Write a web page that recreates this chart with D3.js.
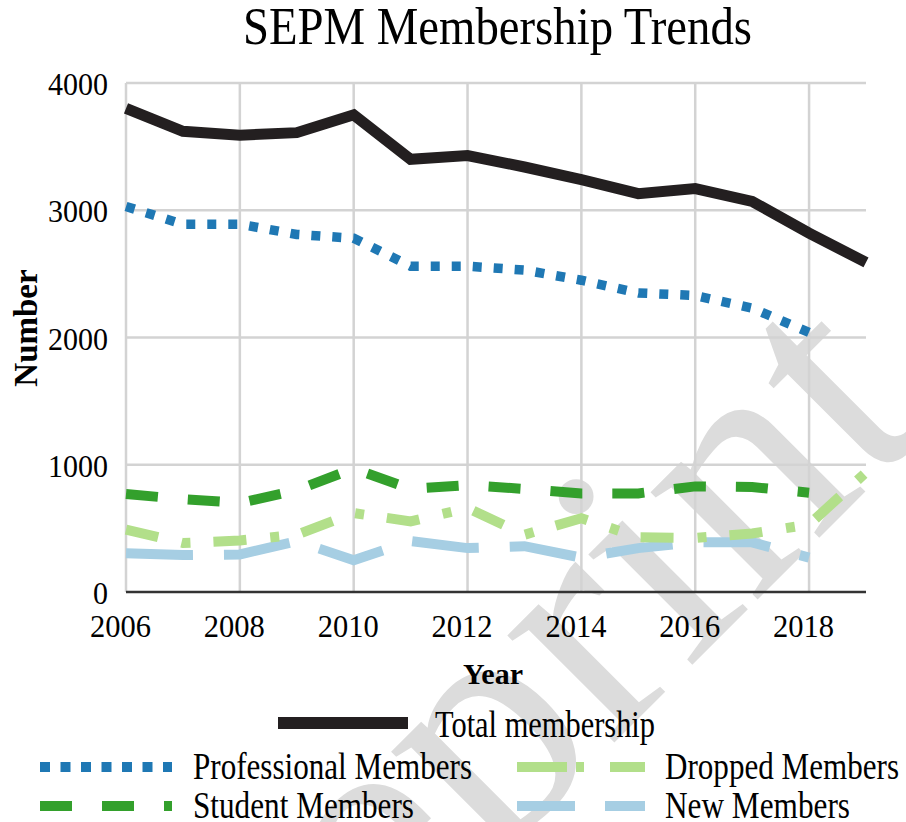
<!DOCTYPE html>
<html>
<head>
<meta charset="utf-8">
<script src="https://cdn.jsdelivr.net/npm/d3@7"></script>
<style>
  body { margin: 0; background: #fff; }
  svg { display: block; }
  svg text { font-family: 'Liberation Serif', 'Times New Roman', serif; }
</style>
</head>
<body>
<svg id="chart" width="906" height="822"></svg>
<script>
// data
const years = [2006, 2007, 2008, 2009, 2010, 2011, 2012, 2013, 2014, 2015, 2016, 2017, 2018, 2019];
const totalMembership = [3800, 3620, 3590, 3610, 3750, 3400, 3430, 3340, 3240, 3130, 3170, 3070, 2820, 2590];
const professionalMembers = [3030, 2890, 2890, 2810, 2780, 2560, 2560, 2530, 2450, 2350, 2330, 2230, 2040, null];
const studentMembers = [770, 730, 700, 800, 970, 810, 840, 810, 775, 775, 830, 825, 780, null];
const droppedMembers = [490, 385, 405, 450, 620, 555, 660, 450, 580, 430, 425, 460, 530, 940];
const newMembers = [305, 290, 295, 400, 250, 400, 345, 360, 270, 345, 390, 390, 270, null];
const xTicks = [2006, 2008, 2010, 2012, 2014, 2016, 2018];
const yTicks = [0, 1000, 2000, 3000, 4000];

// series styles (dash patterns follow the picture)
const series = [
  { name: 'Total membership', values: totalMembership, color: '#231f20', width: 11, dash: null },
  { name: 'Professional Members', values: professionalMembers, color: '#1f78b4', width: 9.5, dash: '9 12' },
  { name: 'Student Members', values: studentMembers, color: '#33a02c', width: 10, dash: '32 30' },
  { name: 'Dropped Members', values: droppedMembers, color: '#b2df8a', width: 10, dash: '33 24 9 23' },
  { name: 'New Members', values: newMembers, color: '#a6cee3', width: 10, dash: '67 31' }
];

const serif = "'Liberation Serif', 'Times New Roman', serif";

var margin = { left: 126, right: 40, top: 83, bottom: 230 };
var width = 906, height = 822;

const svg = d3.select('#chart');

svg.append('rect').attr('width', width).attr('height', height).attr('fill', '#fff');

// watermark behind the chart
svg.append('text')
  .attr('transform', 'translate(182,1175) rotate(-45)')
  .style('font-family', serif)
  .attr('font-size', 330)
  .attr('fill', '#dcdcdc')
  .text('Preprint');

const x = d3.scaleLinear().domain([2006, 2019]).range([margin.left, width - margin.right]);
const y = d3.scaleLinear().domain([0, 4000]).range([height - margin.bottom, margin.top]);

// grid
svg.append('g')
  .selectAll('line')
  .data(yTicks.filter(d => d > 0))
  .enter()
  .append('line')
  .attr('x1', x(2006)).attr('x2', x(2019))
  .attr('y1', d => y(d)).attr('y2', d => y(d))
  .attr('stroke', '#d3d3d3').attr('stroke-width', 2.5);

svg.append('g')
  .selectAll('line')
  .data(xTicks)
  .enter()
  .append('line')
  .attr('x1', d => x(d)).attr('x2', d => x(d))
  .attr('y1', y(0)).attr('y2', y(4000))
  .attr('stroke', '#d3d3d3').attr('stroke-width', 2.5);

// axes (tick labels only)
const yAxis = svg.append('g')
  .attr('transform', 'translate(' + margin.left + ',0)')
  .call(d3.axisLeft(y).tickValues(yTicks).tickSize(0).tickPadding(18).tickFormat(d3.format('d')));
yAxis.attr('font-family', null);
yAxis.select('.domain').remove();
yAxis.selectAll('text')
  .style('font-family', serif)
  .attr('font-size', 32)
  .attr('fill', '#000')
  .attr('dy', '0.36em')
  .attr('textLength', d => String(d).length * 15)
  .attr('lengthAdjust', 'spacingAndGlyphs');

const xAxis = svg.append('g')
  .attr('transform', 'translate(-6,' + y(0) + ')')
  .call(d3.axisBottom(x).tickValues(xTicks).tickSize(0).tickPadding(22).tickFormat(d3.format('d')));
xAxis.attr('font-family', null);
xAxis.select('.domain').remove();
xAxis.selectAll('text')
  .style('font-family', serif)
  .attr('font-size', 32)
  .attr('fill', '#000')
  .attr('dy', '0.71em')
  .attr('textLength', 61)
  .attr('lengthAdjust', 'spacingAndGlyphs');

// x axis base line
svg.append('line')
  .attr('x1', x(2006)).attr('x2', x(2019))
  .attr('y1', y(0)).attr('y2', y(0))
  .attr('stroke', '#333').attr('stroke-width', 2.5);

// lines
const line = d3.line()
  .defined(d => d.v != null)
  .x(d => x(d.year))
  .y(d => y(d.v));

series.slice().reverse().forEach(function (s) {
  const pts = years.map((yr, i) => ({ year: yr, v: s.values[i] }));
  svg.append('path')
    .datum(pts)
    .attr('d', line)
    .attr('fill', 'none')
    .attr('stroke', s.color)
    .attr('stroke-width', s.width)
    .attr('stroke-dasharray', s.dash);
});

// titles
svg.append('text')
  .attr('x', 243).attr('y', 44)
  .style('font-family', serif)
  .attr('font-size', 53)
  .attr('textLength', 509)
  .attr('lengthAdjust', 'spacingAndGlyphs')
  .text('SEPM Membership Trends');

svg.append('text')
  .attr('x', 493).attr('y', 684)
  .attr('text-anchor', 'middle')
  .style('font-family', serif)
  .attr('font-size', 30)
  .attr('font-weight', 'bold')
  .text('Year');

svg.append('text')
  .attr('transform', 'translate(37,328) rotate(-90)')
  .attr('text-anchor', 'middle')
  .style('font-family', serif)
  .attr('font-size', 33)
  .attr('font-weight', 'bold')
  .text('Number');

// legend
const legendItems = [
  { s: series[0], x1: 278, x2: 408, y: 723, tx: 435, ty: 737, tl: 220, dash: null },
  { s: series[1], x1: 40, x2: 172, y: 767, tx: 193, ty: 779, tl: 279, dash: '10 10.5' },
  { s: series[3], x1: 517, x2: 645, y: 767, tx: 665, ty: 779, tl: 234, dash: '50 9 8 26' },
  { s: series[2], x1: 40, x2: 172, y: 806, tx: 193, ty: 818, tl: 221, dash: '32 30' },
  { s: series[4], x1: 517, x2: 645, y: 806, tx: 665, ty: 818, tl: 185, dash: '58 30' }
];

const legend = svg.append('g');
legendItems.forEach(function (d) {
  legend.append('line')
    .attr('x1', d.x1).attr('x2', d.x2)
    .attr('y1', d.y).attr('y2', d.y)
    .attr('stroke', d.s.color)
    .attr('stroke-width', d.s === series[0] ? 12 : 10)
    .attr('stroke-dasharray', d.dash);
  legend.append('text')
    .attr('x', d.tx).attr('y', d.ty)
    .style('font-family', serif)
    .attr('font-size', 37)
    .attr('textLength', d.tl)
    .attr('lengthAdjust', 'spacingAndGlyphs')
    .text(d.s.name);
});
</script>
</body>
</html>
